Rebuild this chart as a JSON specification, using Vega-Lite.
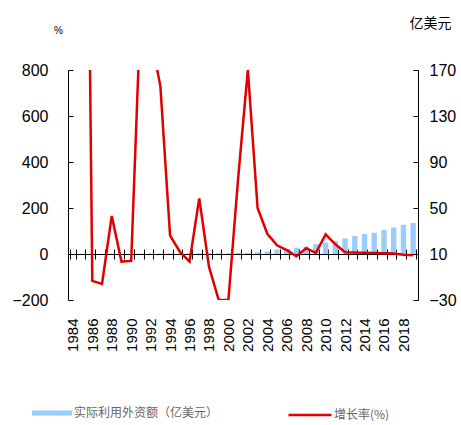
{
  "$schema": "https://vega.github.io/schema/vega-lite/v6.json",
  "width": 350,
  "height": 230,
  "autosize": {"type": "none"},
  "padding": {"left": 68, "top": 70, "right": 43, "bottom": 125},
  "background": "white",
  "config": {
    "view": {"stroke": null},
    "axis": {"grid": false, "domainColor": "#000", "tickColor": "#000", "labelColor": "#000", "titleColor": "#000", "labelFont": "Liberation Sans", "titleFont": "Liberation Sans", "titleFontWeight": "normal"}
  },
  "data": {
    "values": [
      {"year": 1984, "fdi": 10.1, "rate": null},
      {"year": 1985, "fdi": 10.1, "rate": 3800},
      {"year": 1986, "fdi": 10.1, "rate": -117},
      {"year": 1987, "fdi": 10.1, "rate": -130},
      {"year": 1988, "fdi": 10.2, "rate": 165},
      {"year": 1989, "fdi": 10.2, "rate": -33},
      {"year": 1990, "fdi": 10.2, "rate": -30},
      {"year": 1991, "fdi": 10.3, "rate": 1100},
      {"year": 1992, "fdi": 10.4, "rate": 950},
      {"year": 1993, "fdi": 10.5, "rate": 730},
      {"year": 1994, "fdi": 10.6, "rate": 80},
      {"year": 1995, "fdi": 10.6, "rate": 10},
      {"year": 1996, "fdi": 10.6, "rate": -33},
      {"year": 1997, "fdi": 10.7, "rate": 242},
      {"year": 1998, "fdi": 10.7, "rate": -55},
      {"year": 1999, "fdi": 10.6, "rate": -200},
      {"year": 2000, "fdi": 10.6, "rate": -200},
      {"year": 2001, "fdi": 10.8, "rate": 330},
      {"year": 2002, "fdi": 11, "rate": 800},
      {"year": 2003, "fdi": 11.5, "rate": 200},
      {"year": 2004, "fdi": 12, "rate": 88},
      {"year": 2005, "fdi": 14, "rate": 38},
      {"year": 2006, "fdi": 14.5, "rate": 17},
      {"year": 2007, "fdi": 15.5, "rate": -10},
      {"year": 2008, "fdi": 16.5, "rate": 25},
      {"year": 2009, "fdi": 18.5, "rate": 5},
      {"year": 2010, "fdi": 20, "rate": 85},
      {"year": 2011, "fdi": 21.5, "rate": 42},
      {"year": 2012, "fdi": 23.6, "rate": 8},
      {"year": 2013, "fdi": 25.6, "rate": 6},
      {"year": 2014, "fdi": 27.5, "rate": 5},
      {"year": 2015, "fdi": 28.5, "rate": 4},
      {"year": 2016, "fdi": 31, "rate": 3},
      {"year": 2017, "fdi": 33, "rate": 2},
      {"year": 2018, "fdi": 35.3, "rate": -3},
      {"year": 2019, "fdi": 37, "rate": -5}
    ]
  },
  "layer": [
    {
      "mark": {"type": "bar", "clip": true},
      "encoding": {
        "x": {
          "field": "year", "type": "ordinal",
          "scale": {"paddingInner": 0.45, "paddingOuter": 0.225},
          "axis": {
            "orient": "bottom", "offset": -46, "title": null,
            "tickBand": "extent", "tickSize": 5, "labelAngle": -90,
            "labelPadding": 59, "labelFontSize": 15, "labelOverlap": false,
            "labelExpr": "datum.value % 2 == 0 ? datum.label : ''"
          }
        },
        "y": {
          "field": "fdi", "type": "quantitative",
          "scale": {"domain": [-30, 170], "nice": false, "zero": false},
          "axis": {
            "orient": "right", "values": [-30, 10, 50, 90, 130, 170],
            "tickSize": -5, "labelPadding": 16, "labelFontSize": 16,
            "title": "亿美元", "titleAngle": 0, "titleX": 12, "titleY": -47,
            "titleAlign": "center", "titleBaseline": "middle",
            "titleFont": "Noto Sans CJK SC", "titleFontSize": 14
          }
        },
        "y2": {"datum": 10},
        "fill": {
          "datum": "实际利用外资额（亿美元）",
          "scale": {"range": ["#99CCFF"]},
          "legend": {
            "title": null, "orient": "none", "legendX": -36, "legendY": 323,
            "symbolType": "M-1,-0.13H1V0.13H-1Z", "symbolSize": 1600,
            "symbolStrokeWidth": 0, "labelOffset": 2, "padding": 0,
            "labelFont": "Noto Sans CJK SC", "labelFontSize": 12, "labelColor": "#666"
          }
        }
      }
    },
    {
      "mark": {"type": "line", "clip": true, "strokeWidth": 2.5},
      "encoding": {
        "x": {
          "field": "year", "type": "ordinal",
          "axis": {
            "orient": "top", "offset": -184, "title": null, "domain": false,
            "labels": false, "tickBand": "extent", "tickSize": 5
          }
        },
        "y": {
          "field": "rate", "type": "quantitative",
          "scale": {"domain": [-200, 800], "nice": false, "zero": false},
          "axis": {
            "orient": "left", "values": [-200, 0, 200, 400, 600, 800],
            "tickSize": -5, "labelPadding": 25, "labelFontSize": 16,
            "title": "%", "titleAngle": 0, "titleX": -10, "titleY": -40,
            "titleAlign": "center", "titleBaseline": "middle", "titleFontSize": 10
          }
        },
        "stroke": {
          "datum": "增长率(%)",
          "scale": {"range": ["#E00000"]},
          "legend": {
            "title": null, "orient": "none", "legendX": 219, "legendY": 322,
            "symbolType": "stroke", "symbolSize": 1849, "symbolStrokeWidth": 2.5,
            "labelOffset": 1, "padding": 0,
            "labelFont": "Noto Sans CJK SC", "labelFontSize": 12, "labelColor": "#666"
          }
        }
      }
    }
  ],
  "resolve": {"scale": {"y": "independent"}, "axis": {"x": "independent"}}
}
